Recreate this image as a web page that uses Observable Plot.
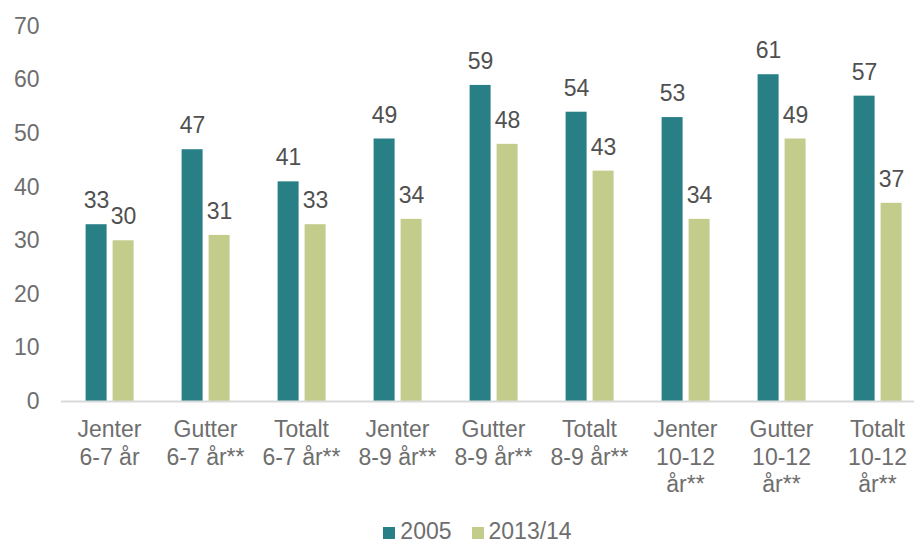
<!DOCTYPE html>
<html>
<head>
<meta charset="utf-8">
<script src="https://cdn.jsdelivr.net/npm/d3@7"></script>
<script src="https://cdn.jsdelivr.net/npm/@observablehq/plot@0.6"></script>
<style>
  html, body { margin: 0; padding: 0; background: #fff; overflow: hidden; }
  #chart { width: 914px; }
  .legend { font-family: "Liberation Sans", Arial, sans-serif; font-size: 23px; line-height: 26px; height: 26px; color: #6e6e6e;
            padding-top: 10px; display: flex; justify-content: center; margin-left: 41px; }
  .legend .item { display: inline-flex; align-items: baseline; margin: 0 10px; }
  .legend .sw { display: inline-block; width: 12px; height: 12px; margin-right: 5px; }
</style>
</head>
<body>
<div id="chart"></div>
<script>
const categories = ["Jenter\n6-7 år", "Gutter\n6-7 år**", "Totalt\n6-7 år**", "Jenter\n8-9 år**", "Gutter\n8-9 år**", "Totalt\n8-9 år**", "Jenter\n10-12\når**", "Gutter\n10-12\når**", "Totalt\n10-12\når**"];
const seriesNames = ["2005", "2013/14"];
const values2005 = [33, 47, 41, 49, 59, 54, 53, 61, 57];
const values2013 = [30, 31, 33, 34, 48, 43, 34, 49, 37];
const seriesColors = ["#288086", "#c3cc8b"];
const yTicks = [0, 10, 20, 30, 40, 50, 60, 70];

const data = [];
categories.forEach((c, i) => {
  data.push({cat: c, series: seriesNames[0], value: values2005[i]});
  data.push({cat: c, series: seriesNames[1], value: values2013[i]});
});

const font = "'Liberation Sans', Arial, sans-serif";
const plot = Plot.plot({
  width: 914,
  height: 508,
  marginLeft: 59.4,
  marginRight: -11.6,
  marginTop: 26,
  marginBottom: 107,
  style: {fontFamily: font, fontSize: "23px", color: "#6e6e6e", background: "#fff"},
  fx: {domain: categories, padding: 0, label: null},
  x: {domain: seriesNames, paddingInner: 0.232, paddingOuter: 0.835, axis: null},
  y: {domain: [0, 70], label: null},
  color: {domain: seriesNames, range: seriesColors},
  marks: [
    Plot.axisY({ticks: yTicks, tickSize: 0, tickPadding: 22, label: null, fontSize: 23, fill: "#6e6e6e"}),
    Plot.axisFx({anchor: "bottom", tickSize: 0, tickPadding: 16, lineHeight: 1.2, label: null, fontSize: 23, fill: "#6e6e6e"}),
    Plot.barY(data, {fx: "cat", x: "series", y: "value", fill: "series"}),
    Plot.ruleY([0], {stroke: "#d9d9d9", strokeWidth: 2}),
    Plot.text(data, {fx: "cat", x: "series", y: "value", text: d => String(d.value), lineAnchor: "bottom", dy: -16.5, fontSize: 23, fill: "#505050"})
  ]
});
document.getElementById("chart").appendChild(plot);

const legend = document.createElement("div");
legend.className = "legend";
seriesNames.forEach((s, i) => {
  const item = document.createElement("span");
  item.className = "item";
  const sw = document.createElement("span");
  sw.className = "sw";
  sw.style.background = seriesColors[i];
  item.appendChild(sw);
  item.appendChild(document.createTextNode(s));
  legend.appendChild(item);
});
document.getElementById("chart").appendChild(legend);
</script>
</body>
</html>
